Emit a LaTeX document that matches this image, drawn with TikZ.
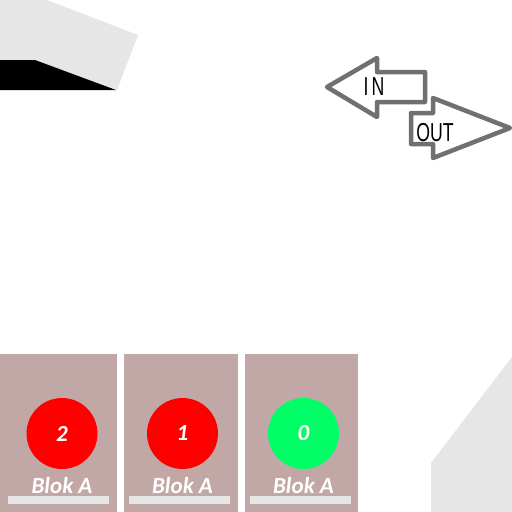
\documentclass[tikz,border=0pt]{standalone}
\usepackage{fontspec}
\setmainfont{Carlito}
\newfontfamily\arrowfont{Liberation Sans}
\definecolor{lgrey}{RGB}{230,230,230}
\definecolor{panelc}{RGB}{193,168,166}
\definecolor{arrowc}{RGB}{112,112,112}
\definecolor{greenc}{RGB}{0,255,102}
\begin{document}
\begin{tikzpicture}[x=1pt,y=-1pt,
  panel/.style={fill=panelc,draw=none},
  lamp/.style={circle,minimum size=71pt,inner sep=0pt,text=white,font=\fontsize{23}{23}\selectfont\bfseries\itshape},
  bar/.style={fill=lgrey,draw=none},
  blabel/.style={text=white,font=\fontsize{23}{23}\selectfont\bfseries\itshape,inner sep=0pt},
  arr/.style={draw=arrowc,line width=4.5pt,fill=white,line join=round},
  arrtext/.style={font=\arrowfont\fontsize{26}{26}\selectfont,xscale=0.68,inner sep=0pt}]
\useasboundingbox (0,0) rectangle (512,512);
\fill[white] (0,0) rectangle (512,512);
% top-left shapes
\fill[lgrey] (0,0) -- (47,0) -- (138,35) -- (117,90) -- (35,60) -- (0,60) -- cycle;
\fill[black] (0,60) -- (35,60) -- (116,90) -- (0,90) -- cycle;
% bottom-right shape
\fill[lgrey] (431,512) -- (431,463) -- (512,357) -- (512,512) -- cycle;
% arrows
\draw[arr] (327,87) -- (377,58) -- (377,72) -- (425,72) -- (425,102) -- (377,102) -- (377,117) -- cycle;
\draw[arr] (510,128) -- (433,98) -- (433,113) -- (411,113) -- (411,144) -- (433,144) -- (433,158) -- cycle;
\node[arrtext] (tin) at (374,87) {I\,N};
\node[arrtext] (tout) at (435,133) {OUT};
% panels
\fill[panel] (0,354) rectangle (117,512);
\fill[panel] (124,354) rectangle (238,512);
\fill[panel] (245,354) rectangle (358,512);
\node[lamp,fill=red] (l2) at (62,433.5) {2};
\node[lamp,fill=red] (l1) at (182.5,433.5) {1};
\node[lamp,fill=greenc] (l0) at (303.5,433.5) {0};
\node[blabel] (b1) at (62,486) {Blok A};
\node[blabel] (b2) at (182.5,486) {Blok A};
\node[blabel] (b3) at (303.5,486) {Blok A};
\fill[bar] (8,496) rectangle (109,504);
\fill[bar] (129,496) rectangle (230,504);
\fill[bar] (250,496) rectangle (351,504);
\end{tikzpicture}
\end{document}
